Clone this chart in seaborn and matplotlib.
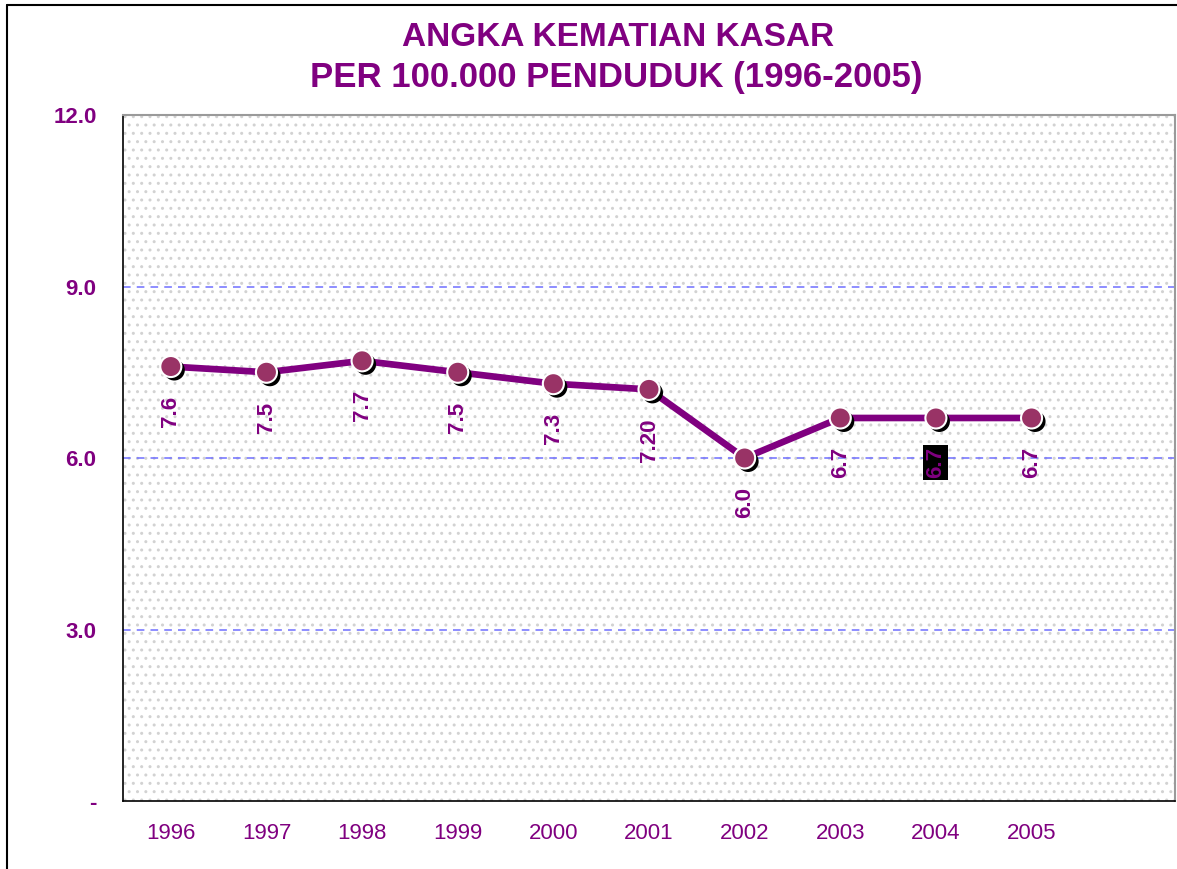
import numpy as np
import pandas as pd
import matplotlib
matplotlib.use("Agg")
import matplotlib.pyplot as plt
import matplotlib.patheffects as pe
from matplotlib.patches import Rectangle
from matplotlib.lines import Line2D
import seaborn as sns

# données
tahun = ["1996", "1997", "1998", "1999", "2000", "2001", "2002", "2003", "2004", "2005"]
angka = [7.6, 7.5, 7.7, 7.5, 7.3, 7.20, 6.0, 6.7, 6.7, 6.7]
label_angka = ["7.6", "7.5", "7.7", "7.5", "7.3", "7.20", "6.0", "6.7", "6.7", "6.7"]
y_ticks = [0, 3, 6, 9, 12]
y_ticklabels = ["-", "3.0", "6.0", "9.0", "12.0"]

UNGU = "#800080"
PLUM = "#993366"

sns.set_style("white")
plt.rcParams["font.family"] = ["Liberation Sans", "DejaVu Sans"]

df = pd.DataFrame({"pos": np.arange(len(tahun)), "nilai": angka})

fig = plt.figure(figsize=(11.77, 8.69), dpi=100)
ax = fig.add_axes([123 / 1177, 1 - 801 / 869, 1052 / 1177, 686 / 869])

# fond pointillé
ax.add_patch(Rectangle((0, 0), 1, 1, transform=ax.transAxes, facecolor="white",
                       edgecolor="#d2d2d2", hatch="..", linewidth=0, zorder=0))

for v in y_ticks[1:-1]:
    ax.axhline(v, color="#6f6fff", lw=1.1, ls=(0, (5, 4)), zorder=1)

sns.lineplot(data=df, x="pos", y="nilai", ax=ax, color=UNGU, lw=4.8, zorder=3)
sns.scatterplot(data=df, x="pos", y="nilai", ax=ax, s=230, color=PLUM,
                edgecolor="white", linewidth=1.5, zorder=4,
                path_effects=[pe.SimplePatchShadow(offset=(2.5, -2.5), shadow_rgbFace="black", alpha=1),
                              pe.Normal()])

for i, (v, lab) in enumerate(zip(angka, label_angka)):
    kw = {}
    if tahun[i] == "2004":
        kw["bbox"] = dict(facecolor="black", edgecolor="none", pad=1.5)
    ax.annotate(lab, (i, v), xytext=(0, -21), textcoords="offset points",
                ha="center", va="top", rotation=90, fontsize=16,
                fontweight="bold", color=UNGU, zorder=5, **kw)

ax.set_xlim(-0.5, 10.5)
ax.set_ylim(0, 12)
ax.set_xticks(np.arange(-0.5, 11, 1))
ax.set_xticklabels([])
ax.set_xticks(np.arange(len(tahun)), minor=True)
ax.set_xticklabels(tahun, minor=True)
ax.tick_params(axis="x", which="major", direction="out", length=8, width=1, color="black")
ax.tick_params(axis="x", which="minor", length=0, pad=16, labelsize=16, labelcolor=UNGU)
ax.set_yticks(y_ticks)
ax.set_yticklabels(y_ticklabels, fontweight="bold")
ax.tick_params(axis="y", direction="out", length=7, width=1, color="black",
               pad=12, labelsize=16, labelcolor=UNGU)
ax.set_xlabel("")
ax.set_ylabel("")

for s in ["left", "bottom"]:
    ax.spines[s].set_color("black")
    ax.spines[s].set_linewidth(1.2)
for s in ["top", "right"]:
    ax.spines[s].set_visible(True)
    ax.spines[s].set_color("#9a9a9a")
    ax.spines[s].set_linewidth(1.5)

fig.text(618 / 1177, 1 - 38 / 869, "ANGKA KEMATIAN KASAR", ha="center", va="center",
         fontsize=24, fontweight="bold", color=UNGU)
fig.text(616 / 1177, 1 - 78 / 869, "PER 100.000 PENDUDUK (1996-2005)", ha="center", va="center",
         fontsize=25, fontweight="bold", color=UNGU)

# cadre
fig.add_artist(Line2D([7 / 1177, 7 / 1177], [0, 1 - 5 / 869], color="black", lw=1.5))
fig.add_artist(Line2D([7 / 1177, 1], [1 - 5 / 869, 1 - 5 / 869], color="black", lw=1.5))

fig.savefig("out.png", dpi=100)
